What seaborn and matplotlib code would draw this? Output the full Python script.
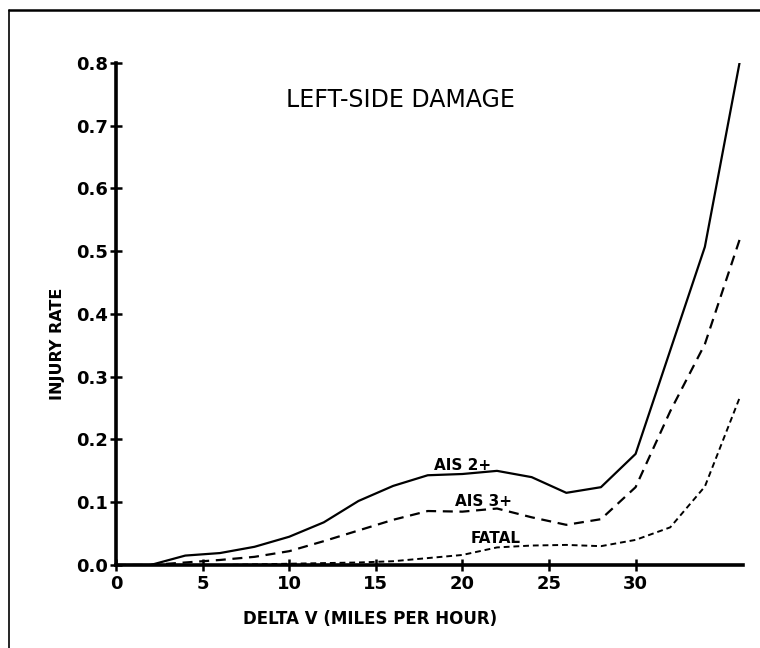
import matplotlib
matplotlib.use("Agg")
import matplotlib.pyplot as plt
from matplotlib.lines import Line2D
import pandas as pd
import seaborn as sns

# Delta V (mph) and injury rates by severity, left-side damage
delta_v = [0, 2, 4, 6, 8, 10, 12, 14, 16, 18, 20, 22, 24, 26, 28, 30, 32, 34, 36]
ais2 = [0, 0, 0.015, 0.019, 0.029, 0.045, 0.068, 0.102, 0.126, 0.143, 0.145,
        0.150, 0.140, 0.115, 0.124, 0.177, 0.342, 0.507, 0.800]
ais3 = [0, 0, 0.004, 0.008, 0.013, 0.022, 0.038, 0.055, 0.072, 0.086, 0.085,
        0.090, 0.076, 0.064, 0.073, 0.124, 0.245, 0.352, 0.518]
fatal = [0, 0, 0, 0, 0.001, 0.002, 0.003, 0.004, 0.006, 0.011, 0.016,
         0.028, 0.031, 0.032, 0.030, 0.040, 0.060, 0.125, 0.266]

x_ticks = [0, 5, 10, 15, 20, 25, 30]
y_ticks = [0.0, 0.1, 0.2, 0.3, 0.4, 0.5, 0.6, 0.7, 0.8]
y_tick_labels = ["0.0", "0.1", "0.2", "0.3", "0.4", "0.5", "0.6", "0.7", "0.8"]

sns.set_theme(style="ticks")
plt.rcParams["font.family"] = ["DejaVu Sans"]
plt.rcParams["text.color"] = "black"
plt.rcParams["axes.labelcolor"] = "black"

df = pd.DataFrame({"dv": delta_v, "AIS 2+": ais2, "AIS 3+": ais3, "FATAL": fatal})

fig = plt.figure(figsize=(7.6, 6.48), dpi=100)
ax = fig.add_axes([0.1526, 0.1281, 0.8250, 0.7747])

sns.lineplot(data=df, x="dv", y="AIS 2+", ax=ax, color="black", lw=1.6)
sns.lineplot(data=df, x="dv", y="AIS 3+", ax=ax, color="black", lw=1.6,
             linestyle=(0, (4.5, 3.0)))
sns.lineplot(data=df, x="dv", y="FATAL", ax=ax, color="black", lw=1.4,
             linestyle=(0, (3.0, 2.0)))

ax.set_xlim(0, 36.2)
ax.set_ylim(0, 0.8)
ax.set_xticks(x_ticks)
ax.set_yticks(y_ticks)
ax.set_yticklabels(y_tick_labels)
for lbl in ax.get_xticklabels() + ax.get_yticklabels():
    lbl.set_fontweight("bold")
ax.tick_params(axis="both", direction="inout", length=8, width=1.8,
               colors="black", labelcolor="black", labelsize=13, pad=2)
ax.tick_params(axis="x", pad=3)

for side in ("top", "right"):
    ax.spines[side].set_visible(False)
for side in ("left", "bottom"):
    ax.spines[side].set_linewidth(2.6)
    ax.spines[side].set_color("black")
ax.grid(False)

ax.set_xlabel("DELTA V (MILES PER HOUR)", fontsize=12, fontweight="bold")
ax.set_ylabel("INJURY RATE", fontsize=11.5, fontweight="bold")
ax.xaxis.set_label_coords(0.405, -0.090)
ax.yaxis.set_label_coords(-0.081, 0.44)

ax.text(0.453, 0.926, "LEFT-SIDE DAMAGE", transform=ax.transAxes,
        ha="center", va="center", fontsize=17, color="black")

ax.text(20.0, 0.159, "AIS 2+", ha="center", va="center", fontsize=11, fontweight="bold")
ax.text(21.2, 0.101, "AIS 3+", ha="center", va="center", fontsize=11, fontweight="bold")
ax.text(21.9, 0.043, "FATAL", ha="center", va="center", fontsize=11, fontweight="bold")

# page frame: top and left rules
fig.add_artist(Line2D([0.0118, 1.0], [0.9846, 0.9846], transform=fig.transFigure,
                      color="black", lw=1.8))
fig.add_artist(Line2D([0.0118, 0.0118], [0.0, 0.9846], transform=fig.transFigure,
                      color="black", lw=1.2))

fig.savefig("out.png", dpi=100, facecolor="white")
